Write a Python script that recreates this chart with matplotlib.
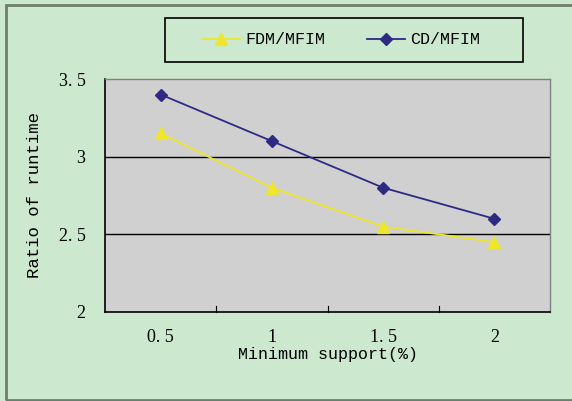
import matplotlib
matplotlib.use("Agg")
import matplotlib.pyplot as plt
from matplotlib.patches import Rectangle
import numpy as np

categories = ["0.5", "1", "1.5", "2"]
tick_labels = ["0. 5", "1", "1. 5", "2"]
fdm_mfim = [3.15, 2.8, 2.55, 2.45]
cd_mfim = [3.4, 3.1, 2.8, 2.6]
y_ticks = [2, 2.5, 3, 3.5]
y_tick_labels = ["2", "2. 5", "3", "3. 5"]

serif = ["Liberation Serif", "DejaVu Serif"]
mono = ["Liberation Mono", "DejaVu Sans Mono"]
plt.rcParams['font.family'] = serif

bg = "#CCE8CF"
fig = plt.figure(figsize=(5.72, 4.01), dpi=100, facecolor=bg)
fig.patches.append(Rectangle((6/572, 1-400/401), 1.0, (400-5)/401, transform=fig.transFigure,
                             fill=False, edgecolor="#6E7E6E", linewidth=2.0, zorder=0))
# legend frame
fig.patches.append(Rectangle((165/572, 1-62/401), (523-165)/572, 44/401, transform=fig.transFigure,
                             facecolor=bg, edgecolor="black", linewidth=1.2, zorder=1))

ax = fig.add_axes([105/572, 89/401, 445/572, 233/401])
ax.set_facecolor("#D0D0D0")
x = np.arange(len(categories))
ax.plot(x, fdm_mfim, color="#EEE62A", marker="^", markersize=8, linewidth=1.3, label="FDM/MFIM")
ax.plot(x, cd_mfim, color="#2E2A84", marker="D", markersize=6, linewidth=1.3, label="CD/MFIM")
ax.set_xlim(-0.5, len(categories) - 0.5)
ax.set_ylim(2, 3.5)
ax.set_yticks(y_ticks)
ax.set_yticklabels(y_tick_labels, fontsize=13)
ax.set_xticks(x)
ax.set_xticklabels(tick_labels, fontsize=13)
ax.tick_params(axis='x', length=0, pad=12)
ax.tick_params(axis='y', length=0, pad=14)
for b in np.arange(0.5, len(categories) - 0.5, 1.0):
    ax.plot([b, b], [2, 2.04], color="black", linewidth=0.8, clip_on=False)
for yv in [2.5, 3.0]:
    ax.axhline(yv, color="black", linewidth=1.0, zorder=0.5)
for s in ["top", "right"]:
    ax.spines[s].set_color("#808080")
    ax.spines[s].set_linewidth(1.0)
for s in ["left", "bottom"]:
    ax.spines[s].set_color("black")
    ax.spines[s].set_linewidth(1.2)
ax.set_xlabel("Minimum support(%)", fontsize=12, family=mono, labelpad=1)
ax.set_ylabel("Ratio of runtime", fontsize=12.4, family=mono, labelpad=12)

leg = fig.legend(loc="center", bbox_to_anchor=(341/572, 1-40/401), ncol=2,
                 prop={"family": mono, "size": 12},
                 frameon=False, handlelength=2.3, handletextpad=0.3, columnspacing=2.5)
leg.set_zorder(5)

fig.savefig("out.png", dpi=100, facecolor=bg)
